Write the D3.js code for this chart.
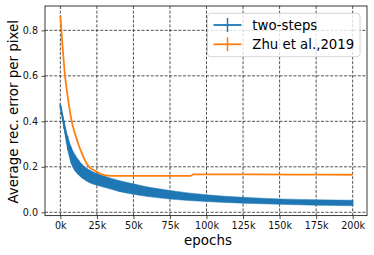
<!DOCTYPE html>
<html lang="en">
<head>
<meta charset="UTF-8">
<title>Reconstruction error</title>
<script src="https://cdn.jsdelivr.net/npm/d3@7"></script>
<style>
  html, body { margin: 0; padding: 0; background: #fff; }
  svg { display: block; font-family: 'DejaVu Sans', sans-serif; }
</style>
</head>
<body>
<div id="chart"></div>
<script>
// data
const epochs = [0, 2500, 5000, 7500, 10000, 12500, 15000, 20000, 25000, 30000, 40000, 50000, 60000, 75000, 100000, 125000, 150000, 175000, 200000]
const twoStepsMean = [0.47, 0.385, 0.305, 0.25, 0.218, 0.197, 0.18, 0.158, 0.145, 0.135, 0.116, 0.102, 0.09, 0.077, 0.062, 0.053, 0.047, 0.043, 0.041]
const twoStepsErr = [0.008, 0.018, 0.03, 0.036, 0.035, 0.033, 0.03, 0.028, 0.026, 0.025, 0.024, 0.023, 0.021, 0.019, 0.015, 0.013, 0.012, 0.012, 0.012]

const zhuEpochs = [0, 1500, 3200, 5000, 7800, 10000, 15000, 19000, 25000, 30000, 35000, 60000, 89000, 91000, 120000, 160000, 200000]
const zhuMean = [0.865, 0.73, 0.6, 0.51, 0.4, 0.345, 0.255, 0.205, 0.178, 0.163, 0.16, 0.16, 0.16, 0.167, 0.167, 0.166, 0.165]

const xTicks = [0, 25000, 50000, 75000, 100000, 125000, 150000, 175000, 200000]
const yTicks = [0, 0.2, 0.4, 0.6, 0.8]
const seriesNames = ['two-steps', 'Zhu et al.,2019']
const colors = ['#1f77b4', '#ff7f0e']

const W = 374, H = 255
const M = { left: 45, right: 7, top: 6, bottom: 39.4 }

const svg = d3.select('#chart').append('svg')
  .attr('width', W)
  .attr('height', H)

const x = d3.scaleLinear().domain([-10500, 209800]).range([M.left, W - M.right])
const y = d3.scaleLinear().domain([-0.0145, 0.907]).range([H - M.bottom, M.top])

// grid
const grid = svg.append('g')
  .attr('stroke', '#000')
  .attr('stroke-width', 0.8)
  .attr('stroke-dasharray', '3,1.6')
  .attr('opacity', 0.85)
grid.selectAll('.gx').data(xTicks).join('line')
  .attr('x1', d => x(d)).attr('x2', d => x(d))
  .attr('y1', M.top).attr('y2', H - M.bottom)
grid.selectAll('.gy').data(yTicks).join('line')
  .attr('y1', d => y(d)).attr('y2', d => y(d))
  .attr('x1', M.left).attr('x2', W - M.right)

// two-steps with error bars
const band = d3.area()
  .x((d, i) => x(epochs[i]))
  .y0((d, i) => y(twoStepsMean[i] - twoStepsErr[i]))
  .y1((d, i) => y(twoStepsMean[i] + twoStepsErr[i]))
  .curve(d3.curveMonotoneX)
svg.append('path')
  .attr('d', band(epochs))
  .attr('fill', colors[0])
  .attr('stroke', colors[0])
  .attr('stroke-width', 0.8)
  .attr('stroke-opacity', 0.6)

svg.append('g').selectAll('line').data(epochs).join('line')
  .attr('x1', d => x(d)).attr('x2', d => x(d))
  .attr('y1', (d, i) => y(twoStepsMean[i] - twoStepsErr[i]))
  .attr('y2', (d, i) => y(twoStepsMean[i] + twoStepsErr[i]))
  .attr('stroke', colors[0])
  .attr('stroke-width', 1.2)

const line = d3.line().curve(d3.curveMonotoneX)
svg.append('path')
  .attr('d', line(epochs.map((d, i) => [x(d), y(twoStepsMean[i])])))
  .attr('fill', 'none')
  .attr('stroke', colors[0])
  .attr('stroke-width', 1.8)

// Zhu et al.
svg.append('path')
  .attr('d', line(zhuEpochs.map((d, i) => [x(d), y(zhuMean[i])])))
  .attr('fill', 'none')
  .attr('stroke', colors[1])
  .attr('stroke-width', 1.8)

// axes
svg.append('g')
  .attr('transform', `translate(0,${H - M.bottom})`)
  .call(d3.axisBottom(x).tickValues(xTicks).tickFormat(d => d / 1000 + 'k').tickSizeOuter(0).tickSize(3.5).tickPadding(3.5))
svg.append('g')
  .attr('transform', `translate(${M.left},0)`)
  .call(d3.axisLeft(y).tickValues(yTicks).tickFormat(d3.format('.1f')).tickSizeOuter(0).tickSize(3.5).tickPadding(3.5))
svg.selectAll('.domain').remove()
svg.selectAll('.tick text').attr('font-size', 9.6).attr('fill', '#111').attr('font-family', 'DejaVu Sans')
svg.selectAll('.tick line').attr('stroke', '#222').attr('stroke-width', 0.8)

svg.append('rect')
  .attr('x', M.left).attr('y', M.top)
  .attr('width', W - M.left - M.right)
  .attr('height', H - M.top - M.bottom)
  .attr('fill', 'none')
  .attr('stroke', '#222')
  .attr('stroke-width', 0.9)

// labels
svg.append('text')
  .attr('x', (M.left + W - M.right) / 2 + 2)
  .attr('y', 245)
  .attr('text-anchor', 'middle')
  .attr('font-size', 13.4)
  .text('epochs')
svg.append('text')
  .attr('transform', `translate(18,${(M.top + H - M.bottom) / 2 + 1}) rotate(-90)`)
  .attr('text-anchor', 'middle')
  .attr('font-size', 13.4)
  .text('Average rec. error per pixel')

// legend
const lg = svg.append('g')
lg.append('rect')
  .attr('x', 207.5).attr('y', 13.3)
  .attr('width', 152.5).attr('height', 43.4)
  .attr('rx', 3)
  .attr('fill', '#fff').attr('fill-opacity', 0.8)
  .attr('stroke', '#ccc').attr('stroke-width', 0.8)
const rows = lg.selectAll('.row').data(seriesNames).join('g')
  .attr('transform', (d, i) => `translate(0,${25 + i * 19.3})`)
rows.append('line')
  .attr('x1', 213.5).attr('x2', 241.5)
  .attr('stroke', (d, i) => colors[i]).attr('stroke-width', 1.8)
rows.append('line')
  .attr('x1', 227.5).attr('x2', 227.5)
  .attr('y1', -7).attr('y2', 7)
  .attr('stroke', (d, i) => colors[i]).attr('stroke-width', 1.5)
rows.append('text')
  .attr('x', 252.3).attr('dy', '0.35em')
  .attr('font-size', 13.3)
  .text(d => d)
</script>
</body>
</html>
